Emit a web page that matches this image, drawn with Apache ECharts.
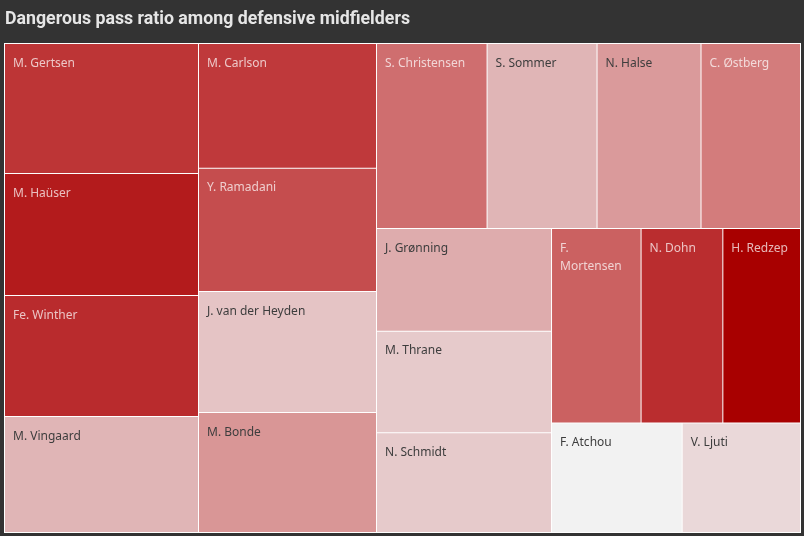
<!DOCTYPE html>
<html>
<head>
<meta charset="utf-8">
<style>
  html, body { margin: 0; padding: 0; background: #333333; }
  #chart { width: 804px; height: 536px; }
</style>
<script src="https://cdn.jsdelivr.net/npm/echarts@6/dist/echarts.min.js"></script>
</head>
<body>
<div id="chart"></div>
<script>
// Player names
const players = [
  "M. Gertsen", "M. Haüser", "Fe. Winther", "M. Vingaard",
  "M. Carlson", "Y. Ramadani", "J. van der Heyden", "M. Bonde",
  "S. Christensen", "S. Sommer", "N. Halse", "C. Østberg",
  "J. Grønning", "M. Thrane", "N. Schmidt",
  "F. Mortensen", "N. Dohn", "H. Redzep",
  "F. Atchou", "V. Ljuti"
];
// Number of passes (size of each tile)
const passes = [
  2522, 2367, 2347, 2250,
  2220, 2195, 2154, 2136,
  2046, 2035, 1924, 1841,
  1798, 1776, 1745,
  1740, 1589, 1509,
  1432, 1297
];
// Dangerous pass ratio, % (colour of each tile)
const dangerRatio = [
  16.5, 18.2, 17.1, 8.0,
  16.2, 14.9, 7.0, 10.1,
  12.7, 8.0, 9.8, 11.8,
  8.6, 6.6, 6.6,
  13.6, 17.0, 20.0,
  4.0, 5.7
];
const chartTitle = 'Dangerous pass ratio among defensive midfielders';

const rampColors = ['#f2f2f2', '#e0b5b6', '#d27979', '#c03c3e', '#a80000'];
const lightLabelAbove = 11;

const data = players.map((name, i) => ({
  name: name,
  value: [passes[i], dangerRatio[i]],
  label: {
    color: dangerRatio[i] > lightLabelAbove ? 'rgba(255,255,255,0.72)' : '#3d3d3d'
  }
}));

// condensed title: measure Roboto bold and squeeze to the target width
const titleFont = 'bold 18px Roboto';
const ctx = document.createElement('canvas').getContext('2d');
ctx.font = titleFont;
const titleW = ctx.measureText(chartTitle).width;
const titleScale = 405 / titleW;

const chart = echarts.init(document.getElementById('chart'), null, { renderer: 'canvas' });
chart.setOption({
  backgroundColor: '#333333',
  animation: false,
  graphic: [{
    type: 'text',
    x: 5,
    y: 19,
    scaleX: titleScale,
    silent: true,
    style: {
      text: chartTitle,
      x: 0,
      y: 0,
      font: titleFont,
      fill: '#e6e6e6',
      textAlign: 'left',
      textVerticalAlign: 'middle'
    }
  }],
  series: [{
    type: 'treemap',
    left: 4,
    top: 43,
    width: 797,
    height: 490,
    roam: false,
    nodeClick: false,
    silent: true,
    breadcrumb: { show: false },
    sort: 'desc',
    visualDimension: 1,
    colorMappingBy: 'value',
    visualMin: Math.min(...dangerRatio),
    visualMax: Math.max(...dangerRatio),
    color: rampColors,
    label: {
      show: true,
      position: 'insideTopLeft',
      distance: 0,
      padding: [10, 8, 0, 8],
      fontFamily: '"Noto Sans", sans-serif',
      fontSize: 12,
      lineHeight: 18.5,
      overflow: 'break',
      formatter: '{b}'
    },
    itemStyle: { borderWidth: 0 },
    levels: [{
      color: rampColors,
      colorMappingBy: 'value',
      visualDimension: 1,
      visualMin: Math.min(...dangerRatio),
      visualMax: Math.max(...dangerRatio),
      itemStyle: { borderColor: '#ffffff', borderWidth: 1, gapWidth: 1 }
    }, {
      itemStyle: { borderWidth: 0 }
    }],
    data: data
  }]
});
</script>
</body>
</html>
